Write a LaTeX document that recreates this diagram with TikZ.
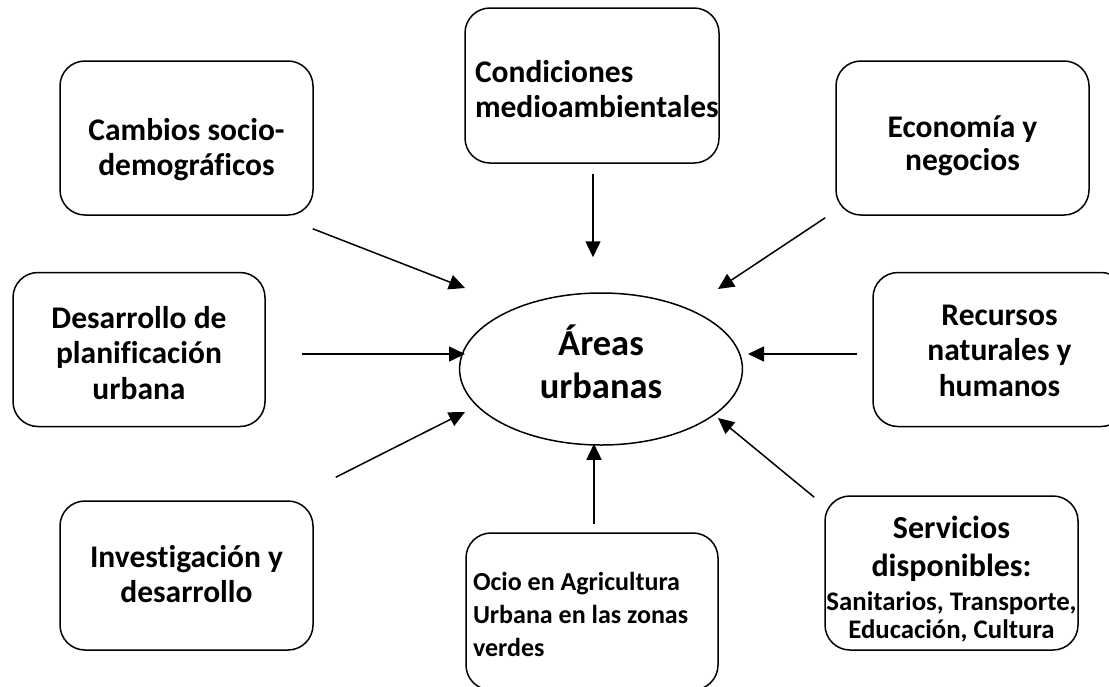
\documentclass[tikz,border=0pt]{standalone}
\usepackage{fontspec}
\setmainfont{Carlito}[Ligatures=NoCommon]
\usetikzlibrary{arrows.meta, positioning, calc, shapes.geometric}

\begin{document}
\begin{tikzpicture}[
    x=1pt, y=-1pt,
    font=\bfseries\fontsize{31.5}{35.5}\selectfont,
    box/.style={rectangle, rounded corners=25pt, draw, line width=1.5pt, minimum width=253pt, minimum height=154pt, inner sep=0pt, align=flush center, text width=245pt},
    hub/.style={ellipse, draw, line width=1.5pt, minimum width=228pt, minimum height=152pt, inner sep=0pt, align=flush center, text width=200pt}
]

\useasboundingbox (0,0) rectangle (1109,686);

% Centre
\node[hub, font=\bfseries\fontsize{36.5}{43}\selectfont, text height=26pt, text depth=54pt] (urbe) at (601,369) {
    Áreas\\urbanas
};

% Top row
\node[box, text height=42pt, text depth=38pt] (cambios) at (186.5,138) {
    Cambios socio-\\demográficos
};

\node[box, align=flush left, text width=234pt, minimum width=254pt, minimum height=155pt, text height=36.5pt, text depth=43.5pt] (cond) at (592,85.5) {
    Condiciones\\medioambientales
};

\node[box, font=\bfseries\fontsize{31.5}{33.5}\selectfont, text height=39pt, text depth=41pt] (econ) at (962.5,138) {
    Economía y\\negocios
};

% Middle row
\node[box, minimum width=252pt, text height=18.5pt, text depth=61.5pt] (desarr) at (139,349.5) {
    Desarrollo de\\planificación\\urbana
};

\node[box, text height=15.5pt, text depth=64.5pt] (recur) at (999.5,349.5) {
    Recursos\\naturales y\\humanos
};

% Bottom row
\node[box, minimum height=149pt, text height=31.5pt, text depth=48.5pt] (invest) at (186.5,575.5) {
    Investigación y\\desarrollo
};

\node[box, align=flush left, font=\bfseries\fontsize{26}{33}\selectfont, text width=238pt, minimum width=252pt, minimum height=157pt, text height=18.5pt, text depth=61.5pt] (ocio) at (592,611.5) {
    Ocio en Agricultura\\Urbana en las zonas\\verdes
};

\node[box, font=\bfseries\fontsize{32}{38}\selectfont, text width=253pt, text height=5pt, text depth=75pt] (serv) at (951.5,573) {
    Servicios\\disponibles:\\[-4pt]
    \fontsize{26.8}{38}\selectfont Sanitarios, Transporte,\\[-10pt]
    Educación, Cultura
};

% Arrows
\begin{scope}[every path/.style={-{Triangle[length=16pt, width=15pt]}, black, line width=1.5pt}]
    \draw ([shift={(-1,13)}]cambios.south east) -- ([shift={(-136,-81)}]urbe.center);
    \draw ([shift={(36,4.5)}]desarr.east) -- ([shift={(-136,-15)}]urbe.center);
    \draw ([shift={(22,-23)}]invest.north east) -- ([shift={(-136,43)}]urbe.center);

    \draw ([shift={(1,10)}]cond.south) -- ([shift={(-8,-35)}]urbe.north);
    \draw ([shift={(2,-8)}]ocio.north) -- ([shift={(-7,-2)}]urbe.south);

    \draw ([shift={(-10,2)}]econ.south west) -- ([shift={(117,-80)}]urbe.center);
    \draw ([shift={(-15,4.5)}]recur.west) -- ([shift={(147,-15)}]urbe.center);
    \draw ([shift={(-10,2)}]serv.north west) -- ([shift={(117,49)}]urbe.center);
\end{scope}

\end{tikzpicture}
\end{document}
